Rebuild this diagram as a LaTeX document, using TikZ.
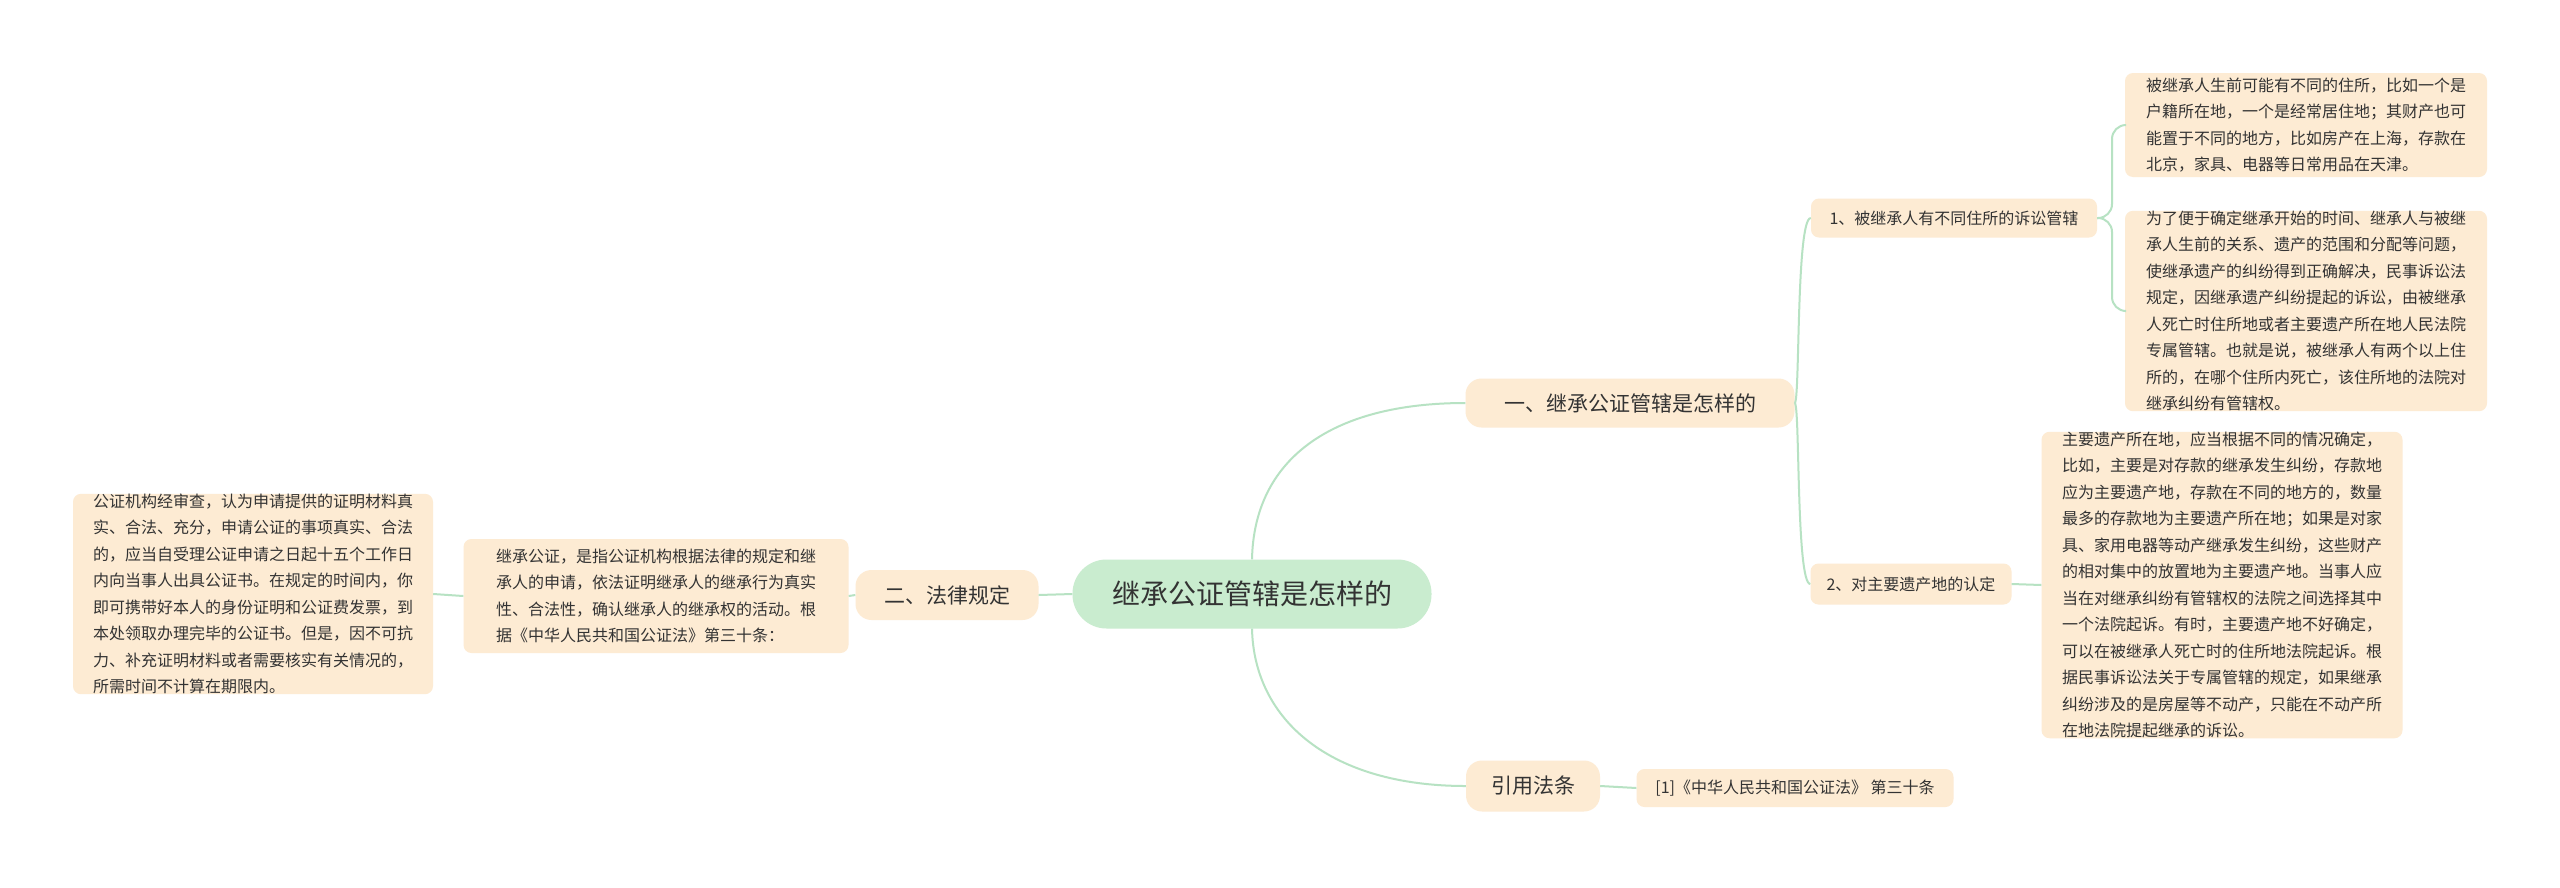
\documentclass[tikz,border=0pt]{standalone}
\usepackage{fontspec}
\setmainfont{Noto Sans CJK SC}
\begin{document}
\begin{tikzpicture}[x=1pt,y=-1pt,
  box/.style={fill=peach,rounded corners=8pt,text=txt,inner sep=0pt,align=left,anchor=center},
  leaf/.style={box,font=\fontsize{16}{26.5}\selectfont},
  mid/.style={box,font=\fontsize{16}{22}\selectfont},
  lvl/.style={box,rounded corners=16pt,font=\fontsize{21}{26}\selectfont},
  link/.style={draw=lnk,line width=2pt}]
\definecolor{peach}{HTML}{FDEBD3}
\definecolor{rootc}{HTML}{C9ECCF}
\definecolor{lnk}{HTML}{B7E2C3}
\definecolor{txt}{HTML}{333333}
\useasboundingbox (0,0) rectangle (2560,887);
\fill[white] (0,0) rectangle (2560,887);
% nodes
\node[box,fill=rootc,rounded corners=34pt,minimum width=359pt,minimum height=69pt,font=\fontsize{28}{32}\selectfont] (root) at (1252,594) {继承公证管辖是怎样的};
\node[lvl,minimum width=329pt,minimum height=49pt] (a) at (1630,403) {一、继承公证管辖是怎样的};
\node[lvl,minimum width=183pt,minimum height=50pt] (b) at (947,595) {二、法律规定};
\node[lvl,minimum width=134pt,minimum height=51pt] (c) at (1533,786) {引用法条};
\node[mid,minimum width=317pt,minimum height=38pt] (c1) at (1795,788) {[1]《中华人民共和国公证法》 第三十条};
\node[mid,minimum width=286pt,minimum height=39pt] (a1) at (1954,218) {1、被继承人有不同住所的诉讼管辖};
\node[mid,minimum width=201pt,minimum height=41pt] (a2) at (1911,584) {2、对主要遗产地的认定};
\node[leaf,minimum width=362pt,minimum height=104pt] (l1) at (2306,125) {被继承人生前可能有不同的住所，比如一个是\\户籍所在地，一个是经常居住地；其财产也可\\能置于不同的地方，比如房产在上海，存款在\\北京，家具、电器等日常用品在天津。};
\node[leaf,minimum width=362pt,minimum height=193pt] (l2) at (2306,311) {为了便于确定继承开始的时间、继承人与被继\\承人生前的关系、遗产的范围和分配等问题，\\使继承遗产的纠纷得到正确解决，民事诉讼法\\规定，因继承遗产纠纷提起的诉讼，由被继承\\人死亡时住所地或者主要遗产所在地人民法院\\专属管辖。也就是说，被继承人有两个以上住\\所的，在哪个住所内死亡，该住所地的法院对\\继承纠纷有管辖权。};
\node[leaf,minimum width=361pt,minimum height=281pt] (l3) at (2222,585) {主要遗产所在地，应当根据不同的情况确定，\\比如，主要是对存款的继承发生纠纷，存款地\\应为主要遗产地，存款在不同的地方的，数量\\最多的存款地为主要遗产所在地；如果是对家\\具、家用电器等动产继承发生纠纷，这些财产\\的相对集中的放置地为主要遗产地。当事人应\\当在对继承纠纷有管辖权的法院之间选择其中\\一个法院起诉。有时，主要遗产地不好确定，\\可以在被继承人死亡时的住所地法院起诉。根\\据民事诉讼法关于专属管辖的规定，如果继承\\纠纷涉及的是房屋等不动产，只能在不动产所\\在地法院提起继承的诉讼。};
\node[leaf,minimum width=385pt,minimum height=114pt] (b1) at (656,596) {继承公证，是指公证机构根据法律的规定和继\\承人的申请，依法证明继承人的继承行为真实\\性、合法性，确认继承人的继承权的活动。根\\据《中华人民共和国公证法》第三十条：};
\node[leaf,minimum width=360pt,minimum height=193pt] (b2) at (253,594) {公证机构经审查，认为申请提供的证明材料真\\实、合法、充分，申请公证的事项真实、合法\\的，应当自受理公证申请之日起十五个工作日\\内向当事人出具公证书。在规定的时间内，你\\即可携带好本人的身份证明和公证费发票，到\\本处领取办理完毕的公证书。但是，因不可抗\\力、补充证明材料或者需要核实有关情况的，\\所需时间不计算在期限内。};
% connectors
\begin{scope}[on background layer/.style={}]
\end{scope}
\begin{pgfonlayer}{main}\end{pgfonlayer}
\path[link] (root.north) .. controls (1254,460) and (1330,403) .. (a.west);
\path[link] (root.south) .. controls (1254,720) and (1330,786) .. (c.west);
\path[link] (root.west) -- (b.east);
\path[link] (b.west) -- (b1.east);
\path[link] (b1.west) -- (b2.east);
\path[link] (c.east) -- (c1.west);
\path[link] (a.east) .. controls (1800,403) and (1796,218) .. (a1.west);
\path[link] (a.east) .. controls (1800,403) and (1796,584) .. (a2.west);
\path[link] (a2.east) -- (l3.west);
\path[link,rounded corners=14pt] (a1.east) -- (2112,218) |- (l1.west);
\path[link,rounded corners=14pt] (a1.east) -- (2112,218) |- (l2.west);
\end{tikzpicture}
\end{document}
